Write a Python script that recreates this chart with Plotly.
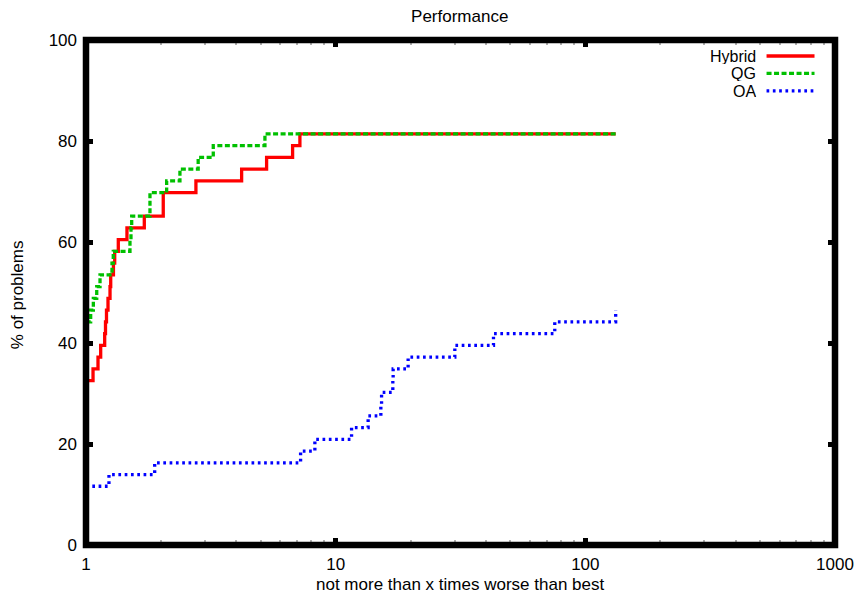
import plotly.graph_objects as go

# ---- data (performance profile) ----
hybrid_x = [1, 1.067, 1.117, 1.145, 1.188, 1.197, 1.208, 1.225, 1.248, 1.256, 1.288,
            1.303, 1.347, 1.459, 1.712, 2.039, 2.756, 4.201, 5.289, 6.722, 7.190, 132.3]
hybrid_y = [32.56, 34.88, 37.21, 39.53, 41.86, 44.19, 46.51, 48.84, 51.16, 53.49, 55.81,
            58.14, 60.47, 62.79, 65.12, 69.77, 72.09, 74.42, 76.74, 79.07, 81.40, 81.40]

qg_x = [1, 1.044, 1.070, 1.104, 1.138, 1.271, 1.286, 1.500, 1.514, 1.524, 1.804,
        2.104, 2.378, 2.814, 3.234, 5.208, 132.3]
qg_y = [44.19, 46.51, 48.84, 51.16, 53.49, 55.81, 58.14, 60.47, 62.79, 65.12, 69.77,
        72.09, 74.42, 76.74, 79.07, 81.40, 81.40]

oa_x = [1, 1.236, 1.884, 7.236, 8.255, 11.58, 13.49, 15.17, 15.27, 16.94, 16.99,
        19.51, 30.01, 42.87, 75.43, 132.3]
oa_y = [11.63, 13.95, 16.28, 18.60, 20.93, 23.26, 25.58, 27.91, 30.23, 32.56, 34.88,
        37.21, 39.53, 41.86, 44.19, 46.51]

series_names = ["Hybrid", "QG", "OA"]
series_colors = ["#ff0000", "#00c000", "#0000ff"]
series_dash = ["solid", "5px,2.5px", "2.7px,3.6px"]

x_tickvals = [1, 10, 100, 1000]
x_ticktext = ["1", "10", "100", "1000"]
x_minor = [m * d for d in (1, 10, 100) for m in range(2, 10)]
y_tickvals = [0, 20, 40, 60, 80, 100]

title_text = "Performance"
x_title = "not more than x times worse than best"
y_title = "% of problems"

FONT = "Liberation Sans, Arial, sans-serif"
FS = 17
LEG_FS = 16
LW = 3.3

fig = go.Figure()
for name, xs, ys, col, dash in zip(series_names, [hybrid_x, qg_x, oa_x],
                                   [hybrid_y, qg_y, oa_y], series_colors, series_dash):
    fig.add_trace(go.Scatter(x=xs, y=ys, mode="lines", name=name,
                             line=dict(color=col, width=LW, dash=dash, shape="hv"),
                             showlegend=False, hoverinfo="skip"))

W, H = 858, 594
L, R, T, B = 86, 22.5, 39.7, 49
pw, ph = W - L - R, H - T - B

# border (gnuplot-style thick frame centred on the plot edge)
fig.add_shape(type="rect", xref="paper", yref="paper", x0=0, x1=1, y0=0, y1=1,
              line=dict(color="black", width=6.5), fillcolor="rgba(0,0,0,0)", layer="above")

# legend drawn gnuplot-style: text right-aligned, sample to the right
leg_rows_px = [55.7, 73.0, 90.7]
text_right_px, samp_x0_px, samp_x1_px = 757, 767, 815
for name, col, dash, ypx in zip(series_names, series_colors, series_dash, leg_rows_px):
    yp = (H - B - ypx) / ph
    fig.add_annotation(xref="paper", yref="paper", x=(text_right_px - L) / pw, y=yp,
                       text=name, showarrow=False, xanchor="right", yanchor="middle",
                       height=16, borderpad=0,
                       font=dict(family=FONT, size=LEG_FS, color="black"))
    fig.add_shape(type="line", xref="paper", yref="paper",
                  x0=(samp_x0_px - L) / pw, x1=(samp_x1_px - L) / pw, y0=yp, y1=yp,
                  line=dict(color=col, width=LW, dash=dash))

# axis titles
fig.add_annotation(xref="paper", yref="paper", x=(460 - L) / pw, y=(H - B - 585) / ph,
                   text=x_title, showarrow=False, xanchor="center", yanchor="middle",
                   font=dict(family=FONT, size=FS, color="black"))
fig.add_annotation(xref="paper", yref="paper", x=(17 - L) / pw, y=(H - B - 295) / ph,
                   text=y_title, showarrow=False, xanchor="center", yanchor="middle",
                   textangle=-90, font=dict(family=FONT, size=FS, color="black"))

fig.update_layout(
    width=W, height=H,
    margin=dict(l=L, r=R, t=T, b=B, autoexpand=False),
    paper_bgcolor="white", plot_bgcolor="white",
    title=dict(text=title_text, x=(460 - L) / pw, xref="paper", xanchor="center",
               y=1 - 16 / H, yref="container", yanchor="middle",
               font=dict(family=FONT, size=FS, color="black")),
    font=dict(family=FONT, size=FS, color="black"),
    xaxis=dict(type="log", range=[0, 3], tickmode="array", tickvals=x_tickvals,
               ticktext=x_ticktext, ticks="inside", ticklen=7, tickwidth=5,
               tickcolor="black", mirror="ticks", showline=False, showgrid=False,
               zeroline=False, ticklabelstandoff=7, automargin=False,
               minor=dict(tickmode="array", tickvals=x_minor, ticks="inside",
                          ticklen=5, tickwidth=2, tickcolor="#b0b0b0", showgrid=False)),
    yaxis=dict(range=[0, 100], tickmode="array", tickvals=y_tickvals,
               ticks="inside", ticklen=7, tickwidth=5, tickcolor="black",
               mirror="ticks", showline=False, showgrid=False, zeroline=False,
               ticklabelstandoff=8, automargin=False),
)

fig.write_html(
    "out.html",
    config={"displayModeBar": False},
    post_script="document.body.style.margin='0';document.body.style.overflow='hidden';",
)
